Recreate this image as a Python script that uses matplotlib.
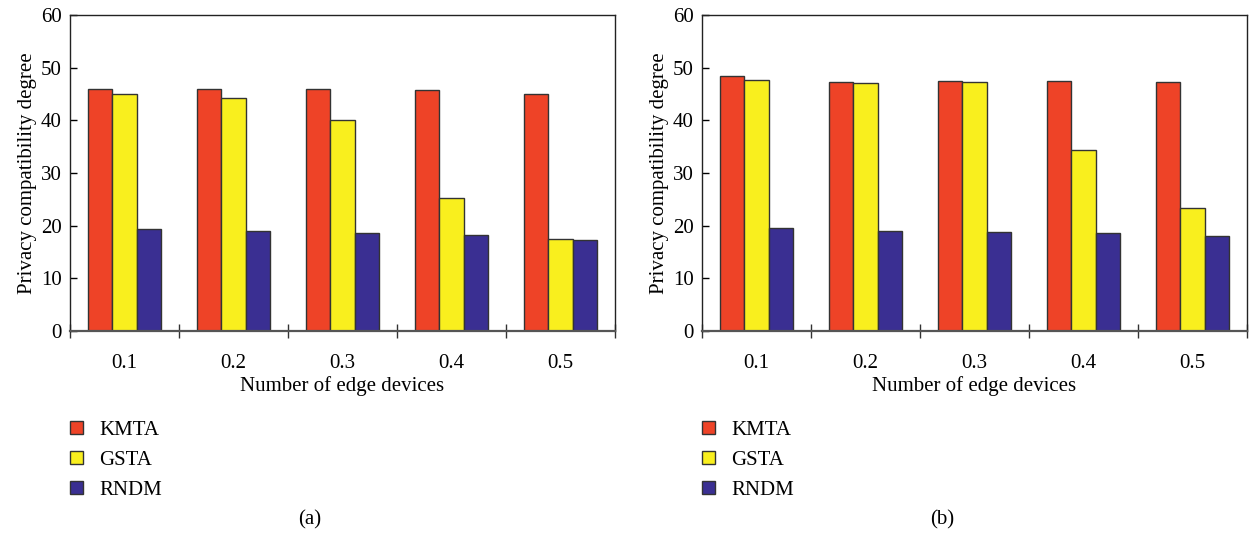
import numpy as np
import matplotlib
matplotlib.use('Agg')
import matplotlib.pyplot as plt

plt.rcParams['font.family'] = ['Liberation Serif', 'DejaVu Serif']

groups = ['0.1', '0.2', '0.3', '0.4', '0.5']
methods = ['KMTA', 'GSTA', 'RNDM']
colors = ['#EE4327', '#F9EF1E', '#3A2F92']

# panel (a)
kmta_a = [46.0, 46.0, 46.0, 45.7, 45.0]
gsta_a = [45.0, 44.2, 40.0, 25.2, 17.5]
rndm_a = [19.3, 19.0, 18.5, 18.2, 17.2]

# panel (b)
kmta_b = [48.5, 47.2, 47.5, 47.5, 47.2]
gsta_b = [47.7, 47.0, 47.2, 34.4, 23.4]
rndm_b = [19.5, 19.0, 18.7, 18.5, 18.0]

fig = plt.figure(figsize=(12.5, 5.38), dpi=100)
ax_a = fig.add_axes([0.056, 0.385, 0.436, 0.587])
ax_b = fig.add_axes([0.5616, 0.385, 0.436, 0.587])

w = 0.224
x = np.arange(len(groups))


def draw(ax, series, tag, tag_x):
    bars = []
    for i, (vals, c) in enumerate(zip(series, colors)):
        b = ax.bar(x + (i - 1) * w, vals, w, color=c, edgecolor='#333333',
                   linewidth=1.0, label=methods[i])
        bars.append(b)
    ax.set_xlim(-0.5, len(groups) - 0.5)
    ax.set_ylim(0, 60)
    ax.set_yticks(range(0, 61, 10))
    ax.set_xticks(x)
    ax.set_xticklabels(groups)
    ax.set_xticks(np.arange(-0.5, len(groups)), minor=True)
    ax.tick_params(axis='x', which='major', length=0, pad=17, labelsize=15)
    ax.tick_params(axis='x', which='minor', direction='inout', length=10,
                   width=1.0, color='#333333')
    ax.tick_params(axis='y', direction='in', length=5, width=1.0,
                   labelsize=15, pad=6)
    for s in ['top', 'right', 'left']:
        ax.spines[s].set_linewidth(1.0)
        ax.spines[s].set_color('#222222')
    ax.spines['bottom'].set_linewidth(1.6)
    ax.spines['bottom'].set_color('#555555')
    ax.set_xlabel('Number of edge devices', fontsize=15, labelpad=2)
    ax.set_ylabel('Privacy compatibility degree', fontsize=15, labelpad=3)
    ax.legend(handles=bars, loc='upper left', frameon=False, fontsize=15,
              bbox_to_anchor=(0.0, -0.285), borderaxespad=0, borderpad=0,
              handlelength=0.6, handleheight=0.6, handletextpad=0.8,
              labelspacing=0.52)
    fig.text(tag_x, 1 - 520 / 538, tag, ha='center', va='center', fontsize=15)


draw(ax_a, [kmta_a, gsta_a, rndm_a], '(a)', 310 / 1250)
draw(ax_b, [kmta_b, gsta_b, rndm_b], '(b)', 942 / 1250)

fig.savefig('out.png', dpi=100)
